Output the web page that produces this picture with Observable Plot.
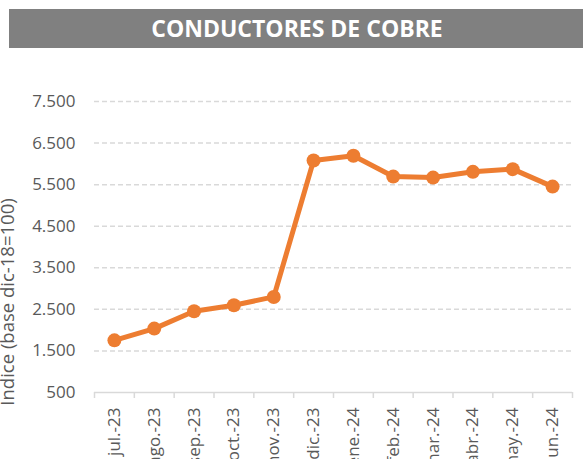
<!DOCTYPE html>
<html>
<head>
<meta charset="utf-8">
<script src="https://cdn.jsdelivr.net/npm/d3@7"></script>
<script src="https://cdn.jsdelivr.net/npm/@observablehq/plot@0.6"></script>
<style>
  html, body { margin: 0; padding: 0; background: #fff; overflow: hidden; }
  body { width: 583px; height: 459px; font-family: "Open Sans", sans-serif; }
  #title { margin: 9px 0 0 9px; height: 39px; background: #808080; width: 574px; position: relative; }
  #title span { position: absolute; left: 0; width: 576px; text-align: center; top: 0; line-height: 39px;
    color: #fff; font-weight: bold; font-size: 23px; font-family: "Open Sans", sans-serif; }
  svg { display: block; }
</style>
</head>
<body>
<div id="title"><span>CONDUCTORES DE COBRE</span></div>
<div id="chart"></div>
<script>
const months = ["jul.-23","ago.-23","sep.-23","oct.-23","nov.-23","dic.-23","ene.-24","feb.-24","mar.-24","abr.-24","may.-24","jun.-24"];
const values = [1755, 2037, 2454, 2599, 2799, 6080, 6194, 5694, 5670, 5808, 5873, 5453];
const yTicks = [500, 1500, 2500, 3500, 4500, 5500, 6500, 7500];
const yLabel = "Índice (base dic-18=100)";

const data = months.map((m, i) => ({month: m, value: values[i]}));
const W = 583, H = 411, mL = 94, mR = 11, mT = 53, mB = 67;
const bw = (W - mL - mR) / months.length;
const fmt = d => d.toLocaleString("de-DE");

const chart = Plot.plot({
  width: W, height: H,
  marginLeft: mL, marginRight: mR, marginTop: mT, marginBottom: mB,
  style: {fontFamily: "Open Sans, sans-serif", fontSize: "17px", color: "#595959", background: "#fff"},
  x: {type: "band", domain: months, padding: 0, round: false},
  y: {domain: [500, 7500]},
  marks: [
    Plot.gridY(yTicks.slice(1), {stroke: "#d9d9d9", strokeOpacity: 1, strokeWidth: 1.5, strokeDasharray: "5,3"}),
    Plot.ruleY([500], {stroke: "#d9d9d9", strokeWidth: 1.5}),
    Plot.ruleX(months, {x: d => d, dx: -bw / 2, y1: 500, y2: 500, insetBottom: -6, stroke: "#d9d9d9", strokeWidth: 1.5}),
    Plot.ruleX(months.slice(-1), {x: d => d, dx: bw / 2, y1: 500, y2: 500, insetBottom: -6, stroke: "#d9d9d9", strokeWidth: 1.5}),
    Plot.axisY({ticks: yTicks, tickFormat: fmt, tickSize: 0, tickPadding: 19, label: null, fill: "#595959", fontSize: 17}),
    Plot.axisX({tickRotate: -90, tickSize: 0, tickPadding: 15, label: null, fill: "#595959", fontSize: 17}),
    Plot.text([yLabel], {text: d => d, frameAnchor: "left", textAnchor: "middle", rotate: -90, dx: -81, dy: 55, lineAnchor: "bottom", fill: "#595959", fontSize: 18.5}),
    Plot.line(data, {x: "month", y: "value", stroke: "#ED7D31", strokeWidth: 5, strokeLinejoin: "round"}),
    Plot.dot(data, {x: "month", y: "value", r: 7, fill: "#ED7D31", stroke: "none"})
  ]
});
document.getElementById("chart").appendChild(chart);
</script>
</body>
</html>
